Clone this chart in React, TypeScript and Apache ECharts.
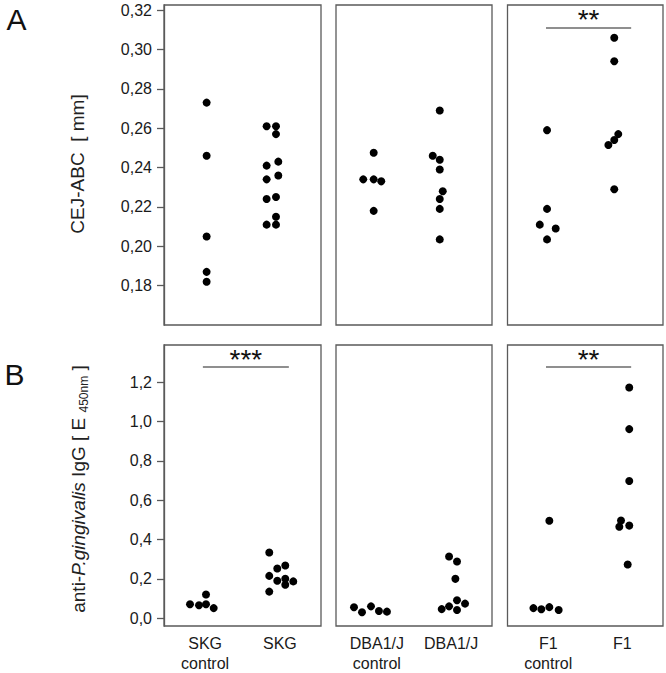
import React, { useEffect, useRef } from "react";
import * as echarts from "echarts";

// ---- data ----
const groupLabels = [
  ["SKG\ncontrol", "SKG"],
  ["DBA1/J\ncontrol", "DBA1/J"],
  ["F1\ncontrol", "F1"],
];

// Panel A: CEJ-ABC [mm]
const cejSkgControl = [0.273, 0.246, 0.205, 0.187, 0.182];
const cejSkgControlJitter = [0.02, 0.02, 0.02, 0.02, 0.02];
const cejSkg = [0.261, 0.261, 0.257, 0.241, 0.243, 0.234, 0.236, 0.224, 0.225, 0.215, 0.211, 0.211];
const cejSkgJitter = [-0.177, -0.052, -0.052, -0.177, -0.021, -0.177, -0.021, -0.177, -0.052, -0.052, -0.177, -0.052];
const cejDbaControl = [0.2475, 0.234, 0.234, 0.233, 0.218];
const cejDbaControlJitter = [-0.043, -0.183, -0.043, 0.059, -0.043];
const cejDba = [0.269, 0.246, 0.244, 0.239, 0.228, 0.224, 0.219, 0.2035];
const cejDbaJitter = [-0.153, -0.248, -0.153, -0.153, -0.113, -0.153, -0.153, -0.153];
const cejF1Control = [0.259, 0.219, 0.211, 0.209, 0.2035];
const cejF1ControlJitter = [-0.016, -0.016, -0.114, 0.101, -0.016];
const cejF1 = [0.306, 0.294, 0.257, 0.254, 0.2515, 0.229];
const cejF1Jitter = [-0.108, -0.108, -0.054, -0.108, -0.188, -0.108];

// Panel B: anti-P.gingivalis IgG [E450nm]
const igSkgControl = [0.071, 0.066, 0.12, 0.071, 0.051];
const igSkgControlJitter = [-0.202, -0.082, 0.012, 0.012, 0.115];
const igSkg = [0.334, 0.253, 0.268, 0.215, 0.19, 0.2, 0.187, 0.17, 0.135];
const igSkgJitter = [-0.142, -0.035, 0.072, -0.142, -0.035, 0.072, 0.179, 0.072, -0.142];
const igDbaControl = [0.055, 0.03, 0.06, 0.036, 0.033];
const igDbaControlJitter = [-0.308, -0.2, -0.079, 0.028, 0.136];
const igDba = [0.314, 0.288, 0.2, 0.091, 0.046, 0.06, 0.041, 0.074];
const igDbaJitter = [-0.028, 0.079, 0.057, 0.079, -0.127, -0.028, 0.079, 0.187];
const igF1Control = [0.051, 0.045, 0.056, 0.041, 0.496];
const igF1ControlJitter = [-0.2, -0.093, 0.015, 0.141, 0.015];
const igF1 = [1.174, 0.962, 0.698, 0.497, 0.465, 0.471, 0.273];
const igF1Jitter = [0.094, 0.094, 0.094, -0.017, -0.04, 0.094, 0.073];

const cejTicks = [0.18, 0.2, 0.22, 0.24, 0.26, 0.28, 0.3, 0.32];
const igTicks = [0, 0.2, 0.4, 0.6, 0.8, 1.0, 1.2];

// significance: [panelRow, panelCol, stars, yLevel]
const significance: [number, number, string, number][] = [
  [0, 2, "**", 0.311],
  [1, 0, "***", 1.278],
  [1, 2, "**", 1.278],
];
const sigSpan = [0.97, 2.12];

const FONT = "'Liberation Sans', Arial, Helvetica, sans-serif";
const BOX = "#5a5a5a";

export default function App() {
  const ref = useRef<HTMLDivElement>(null);
  useEffect(() => {
    document.body.style.margin = "0";
    const chart = echarts.init(ref.current!, undefined, { renderer: "svg" });

    const cols = [
      { left: 164, width: 157 },
      { left: 336, width: 156 },
      { left: 507.5, width: 155.5 },
    ];
    const rows = [
      { top: 5, height: 320, min: 0.16, max: 0.3226, ticks: cejTicks, dec: 2 },
      { top: 345, height: 288, min: -0.04, max: 1.39, ticks: igTicks, dec: 1 },
    ];
    const rowData = [
      [
        [cejSkgControl, cejSkgControlJitter, cejSkg, cejSkgJitter],
        [cejDbaControl, cejDbaControlJitter, cejDba, cejDbaJitter],
        [cejF1Control, cejF1ControlJitter, cejF1, cejF1Jitter],
      ],
      [
        [igSkgControl, igSkgControlJitter, igSkg, igSkgJitter],
        [igDbaControl, igDbaControlJitter, igDba, igDbaJitter],
        [igF1Control, igF1ControlJitter, igF1, igF1Jitter],
      ],
    ];

    const grid: any[] = [];
    const xAxis: any[] = [];
    const yAxis: any[] = [];
    const series: any[] = [];
    let idx = 0;
    rows.forEach((r, ri) => {
      cols.forEach((c, ci) => {
        grid.push({
          left: c.left,
          top: r.top,
          width: c.width,
          height: r.height,
          show: true,
          borderColor: BOX,
          borderWidth: 1.3,
          backgroundColor: "transparent",
        });
        const labels = groupLabels[ci];
        xAxis.push({
          type: "value",
          gridIndex: idx,
          min: 0.45,
          max: 2.55,
          axisLine: { show: false },
          axisTick: { show: false },
          splitLine: { show: false },
          axisLabel: {
            show: ri === 1,
            customValues: [1, 2],
            formatter: (v: number) => (Math.abs(v - 1) < 1e-6 ? labels[0] : Math.abs(v - 2) < 1e-6 ? labels[1] : ""),
            fontFamily: FONT,
            fontSize: 16,
            color: "#1a1a1a",
            lineHeight: 20,
            margin: 7,
          },
        });
        const isFirst = ci === 0;
        yAxis.push({
          type: "value",
          gridIndex: idx,
          min: r.min,
          max: r.max,
          splitLine: { show: false },
          axisLine: { show: isFirst, lineStyle: { color: BOX, width: 1.3 } },
          axisTick: {
            show: isFirst,
            customValues: r.ticks,
            length: 7,
            lineStyle: { color: BOX, width: 1.3 },
          },
          axisLabel: {
            show: isFirst,
            customValues: r.ticks,
            formatter: (v: number) => v.toFixed(r.dec).replace(".", ","),
            fontFamily: FONT,
            fontSize: 16,
            color: "#1a1a1a",
            margin: 12,
          },
        });
        const d = rowData[ri][ci];
        const g1 = (d[0] as number[]).map((v, i) => [1 + (d[1] as number[])[i], v]);
        const g2 = (d[2] as number[]).map((v, i) => [2 + (d[3] as number[])[i], v]);
        const sig = significance.find((s) => s[0] === ri && s[1] === ci);
        series.push({
          type: "scatter",
          xAxisIndex: idx,
          yAxisIndex: idx,
          symbolSize: 8,
          itemStyle: { color: "#000", opacity: 1 },
          data: g1,
          silent: true,
        });
        series.push({
          type: "scatter",
          xAxisIndex: idx,
          yAxisIndex: idx,
          symbolSize: 8,
          itemStyle: { color: "#000", opacity: 1 },
          data: g2,
          silent: true,
          markLine: sig
            ? {
                silent: true,
                symbol: "none",
                lineStyle: { color: "#6a6a6a", width: 1.5, type: "solid", opacity: 1 },
                label: {
                  show: true,
                  position: "middle",
                  formatter: sig[2],
                  fontFamily: FONT,
                  fontSize: 28,
                  color: "#111",
                  distance: -6,
                },
                data: [[{ coord: [sigSpan[0], sig[3]] }, { coord: [sigSpan[1], sig[3]] }]],
              }
            : undefined,
        });
        idx++;
      });
    });

    chart.setOption({
      animation: false,
      grid,
      xAxis,
      yAxis,
      series,
      graphic: [
        {
          type: "text",
          x: 16.6,
          y: 19.5,
          style: { text: "A", font: `30px ${FONT}`, fill: "#111", align: "center", verticalAlign: "middle" },
        },
        {
          type: "text",
          x: 14.5,
          y: 374,
          style: { text: "B", font: `30px ${FONT}`, fill: "#111", align: "center", verticalAlign: "middle" },
        },
        {
          type: "text",
          x: 77,
          y: 164,
          rotation: Math.PI / 2,
          style: {
            text: "CEJ-ABC  [ mm]",
            font: `19px ${FONT}`,
            fill: "#222",
            align: "center",
            verticalAlign: "middle",
          },
        },
        {
          type: "text",
          x: 78,
          y: 489,
          rotation: Math.PI / 2,
          style: {
            text: "{a|anti-}{i|P.gingivalis}{a| IgG [ E }{s|450nm}{a| ]}",
            align: "center",
            verticalAlign: "middle",
            rich: {
              a: { fontFamily: FONT, fontSize: 19, fill: "#222", lineHeight: 24 },
              i: { fontFamily: FONT, fontSize: 19, fontStyle: "italic", fill: "#222", lineHeight: 24 },
              s: { fontFamily: FONT, fontSize: 12, fill: "#222", lineHeight: 12, verticalAlign: "bottom" },
            },
          },
        },
      ],
    });
    return () => chart.dispose();
  }, []);
  return <div ref={ref} style={{ width: 666, height: 673 }} />;
}
